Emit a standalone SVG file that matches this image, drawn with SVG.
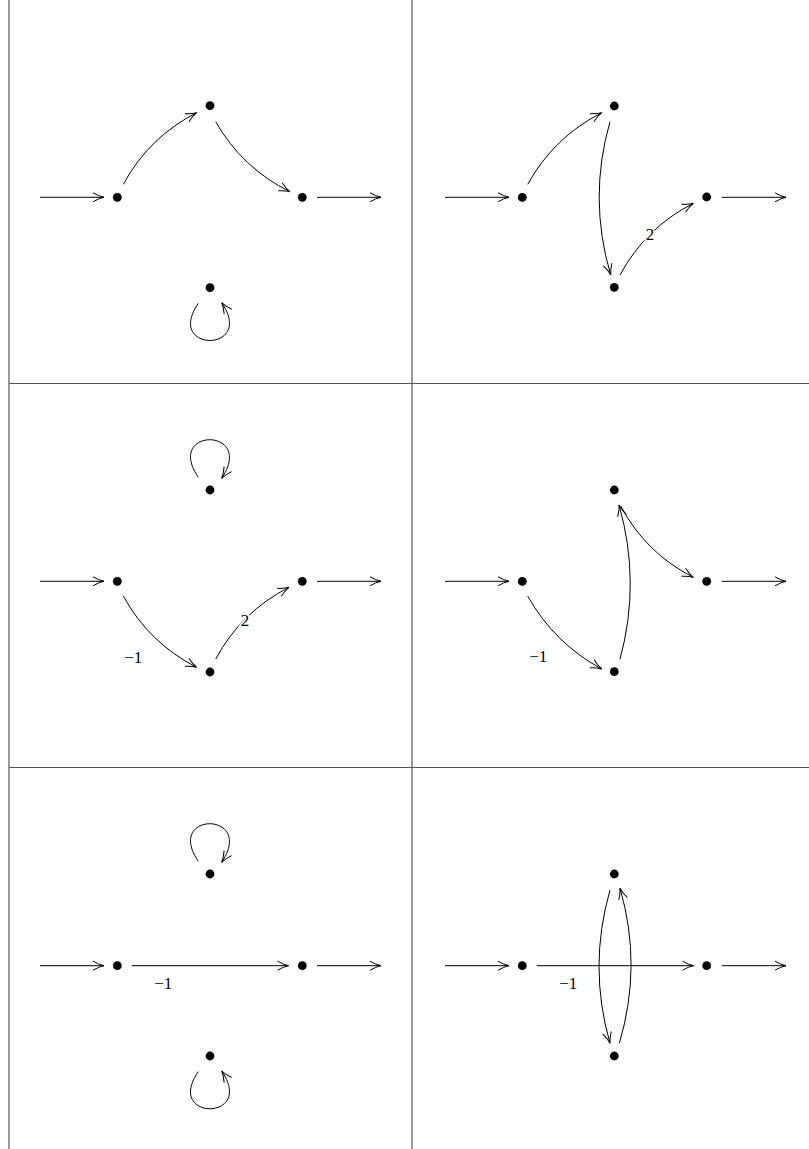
<svg xmlns="http://www.w3.org/2000/svg" width="809" height="1149" viewBox="0 0 809 1149">
<style>
.grid{stroke:#555;stroke-width:1.2;fill:none}
.e{stroke:#000;stroke-width:1;fill:none;marker-end:url(#ah)}
.n{fill:#000}
.lb{font-family:"Liberation Serif","DejaVu Serif",serif;font-size:17px;fill:#000;text-anchor:middle}
.ko{stroke:#fff;stroke-width:3;paint-order:stroke}
</style>
<defs>
<marker id="ah" viewBox="-12 -6 13 12" refX="0" refY="0" markerWidth="13" markerHeight="12" markerUnits="userSpaceOnUse" orient="auto">
<path d="M-11,-4.5 Q-5,-1 0,0 Q-5,1 -11,4.5" fill="none" stroke="#000" stroke-width="1"/>
</marker>
</defs>
<rect width="809" height="1149" fill="#fff"/>
<g id="table" class="grid">
<line x1="9" y1="0" x2="9" y2="1149"/>
<line x1="412" y1="0" x2="412" y2="1149"/>
<line x1="9" y1="383.5" x2="809" y2="383.5"/>
<line x1="9" y1="767.5" x2="809" y2="767.5"/>
</g>
<g id="connectors">
<!-- panel 1 -->
<line class="e" x1="40" y1="197.3" x2="104" y2="197.3"/>
<line class="e" x1="317" y1="197.3" x2="381" y2="197.3"/>
<path class="e" d="M123.3,184.3 Q149,137 196.7,112.7"/>
<path class="e" d="M215.7,121.7 Q242,168 290,191.7"/>
<path class="e" d="M198.3,303.3 C164,353 256,353 221.7,302.7"/>
<!-- panel 2 -->
<line class="e" x1="445" y1="197.3" x2="509" y2="197.3"/>
<line class="e" x1="722" y1="197.3" x2="786" y2="197.3"/>
<path class="e" d="M527.7,184.3 Q554,137 601.7,112.7"/>
<path class="e" d="M610,121.7 Q588,198 610.7,275"/>
<path class="e" d="M620,275 Q645.5,227.7 693.3,203.3"/>
<!-- panel 3 -->
<path class="e" d="M198.3,477.3 C164,427 256,427 221.7,478.3"/>
<line class="e" x1="40" y1="581.3" x2="104" y2="581.3"/>
<line class="e" x1="317" y1="581.3" x2="381" y2="581.3"/>
<path class="e" d="M123.3,596 Q149,643 196.7,667.3"/>
<path class="e" d="M215.7,659 Q241.2,611.7 289,587.3"/>
<!-- panel 4 -->
<line class="e" x1="445" y1="581.3" x2="509" y2="581.3"/>
<line class="e" x1="722" y1="581.3" x2="786" y2="581.3"/>
<path class="e" d="M527.7,596 Q554,643 601.7,669"/>
<path class="e" d="M620,659.3 Q641,582 619,505"/>
<path class="e" d="M620.7,506 Q646,553.4 693.3,577.3"/>
<!-- panel 5 -->
<path class="e" d="M198.3,861.3 C164,811 256,811 221.7,862.3"/>
<line class="e" x1="40" y1="965.7" x2="104" y2="965.7"/>
<line class="e" x1="317" y1="965.7" x2="381" y2="965.7"/>
<line class="e" x1="131.7" y1="965.7" x2="288.5" y2="965.7"/>
<path class="e" d="M198.3,1071.6 C164,1121.3 256,1121.3 221.7,1071"/>
<!-- panel 6 -->
<line class="e" x1="445" y1="965.7" x2="509" y2="965.7"/>
<line class="e" x1="722" y1="965.7" x2="786" y2="965.7"/>
<line class="e" x1="536.7" y1="965.7" x2="693.5" y2="965.7"/>
<path class="e" d="M610,890 Q588,966.7 610,1043.3"/>
<path class="e" d="M619.3,1043.3 Q642.5,965.8 620,888.3"/>
</g>
<g id="labels">
<text class="lb ko" x="650" y="239.5">2</text>
<text class="lb" x="133.3" y="662.5">−1</text>
<text class="lb ko" x="245" y="625.5">2</text>
<text class="lb" x="538.3" y="662">−1</text>
<text class="lb" x="163.3" y="989">−1</text>
<text class="lb" x="568.3" y="989">−1</text>
</g>
<g id="p1-nodes" class="n">
<circle cx="117.3" cy="197.3" r="4.4"/>
<circle cx="210" cy="105.7" r="4.4"/>
<circle cx="302.3" cy="197.3" r="4.4"/>
<circle cx="210" cy="287.7" r="4.4"/>
</g>
<g id="p2-nodes" class="n">
<circle cx="522.3" cy="197.3" r="4.4"/>
<circle cx="614.3" cy="106" r="4.4"/>
<circle cx="706.7" cy="197" r="4.4"/>
<circle cx="614.3" cy="287.3" r="4.4"/>
</g>
<g id="p3-nodes" class="n">
<circle cx="210" cy="490" r="4.4"/>
<circle cx="117.3" cy="581.3" r="4.4"/>
<circle cx="302.3" cy="581.3" r="4.4"/>
<circle cx="210" cy="672" r="4.4"/>
</g>
<g id="p4-nodes" class="n">
<circle cx="614.3" cy="490" r="4.4"/>
<circle cx="522.3" cy="581.3" r="4.4"/>
<circle cx="706.7" cy="581.3" r="4.4"/>
<circle cx="614.3" cy="671.7" r="4.4"/>
</g>
<g id="p5-nodes" class="n">
<circle cx="210" cy="874" r="4.4"/>
<circle cx="117.3" cy="965.7" r="4.4"/>
<circle cx="302.3" cy="965.7" r="4.4"/>
<circle cx="210" cy="1056" r="4.4"/>
</g>
<g id="p6-nodes" class="n">
<circle cx="614.3" cy="874" r="4.4"/>
<circle cx="522.3" cy="965.7" r="4.4"/>
<circle cx="706.7" cy="965.7" r="4.4"/>
<circle cx="614.3" cy="1056" r="4.4"/>
</g>
</svg>
